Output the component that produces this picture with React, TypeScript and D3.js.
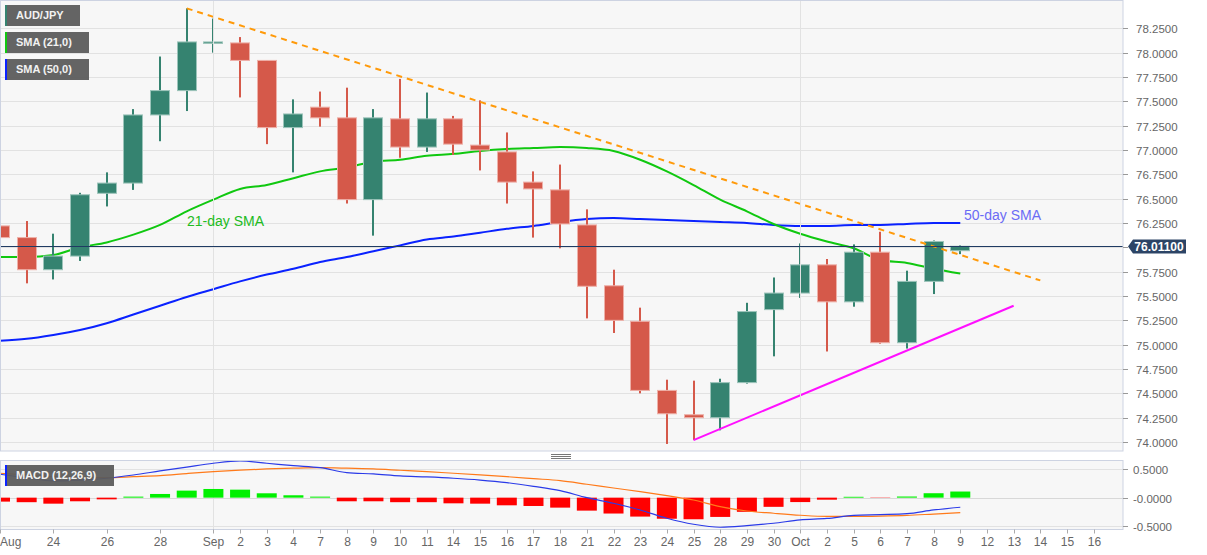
import React, { useEffect, useRef } from 'react';
import * as d3 from 'd3';

// trading days shown on the chart
const dates = [
  'Aug 20', 'Aug 21', 'Aug 24', 'Aug 25', 'Aug 26', 'Aug 27', 'Aug 28', 'Aug 31',
  'Sep 1', 'Sep 2', 'Sep 3', 'Sep 4', 'Sep 7', 'Sep 8', 'Sep 9', 'Sep 10', 'Sep 11',
  'Sep 14', 'Sep 15', 'Sep 16', 'Sep 17', 'Sep 18', 'Sep 21', 'Sep 22', 'Sep 23',
  'Sep 24', 'Sep 25', 'Sep 28', 'Sep 29', 'Sep 30', 'Oct 1', 'Oct 2', 'Oct 5',
  'Oct 6', 'Oct 7', 'Oct 8', 'Oct 9',
];
// x axis labels, including empty future days
const tickLabels = [
  'Aug', '', '24', '', '26', '', '28', '', 'Sep', '2', '3', '4', '7', '8', '9', '10', '11',
  '14', '15', '16', '17', '18', '21', '22', '23', '24', '25', '28', '29', '30', 'Oct', '2',
  '5', '6', '7', '8', '9', '12', '13', '14', '15', '16',
];

const open = [
  76.22, 76.1, 75.77, 75.91, 76.555, 76.66, 77.36, 77.61, 78.105, 78.1, 77.92, 77.23,
  77.44, 77.33, 76.49, 77.32, 77.03, 77.32, 77.05, 76.98, 76.67, 76.59, 76.23, 75.605,
  75.24, 74.53, 74.28, 74.25, 74.61, 75.36, 75.53, 75.82, 75.44, 75.95, 75.02, 75.65, 75.965,
];
const high = [
  76.31, 76.27, 76.14, 76.56, 76.77, 77.42, 77.96, 78.455, 78.35, 78.16, 77.92, 77.52,
  77.6, 77.64, 77.42, 77.73, 77.59, 77.35, 77.51, 77.18, 76.78, 76.85, 76.39, 75.77,
  75.38, 74.64, 74.63, 74.65, 75.43, 75.69, 76.04, 75.88, 76.03, 76.16, 75.76, 76.07, 76.02,
];
const low = [
  75.61, 75.63, 75.67, 75.86, 76.42, 76.59, 77.09, 77.4, 78.0, 77.54, 77.06, 76.77,
  77.24, 76.45, 76.12, 76.92, 76.98, 76.95, 76.79, 76.45, 76.1, 75.99, 75.27, 75.12,
  74.5, 73.98, 74.02, 74.12, 74.6, 74.88, 75.48, 74.93, 75.39, 75.01, 74.96, 75.52, 75.93,
];
const close = [
  76.1, 75.77, 75.91, 76.54, 76.66, 77.36, 77.61, 78.11, 78.11, 77.92, 77.23, 77.37,
  77.33, 76.49, 77.33, 77.03, 77.32, 77.06, 77.0, 76.67, 76.6, 76.24, 75.6, 75.25,
  74.53, 74.29, 74.25, 74.61, 75.34, 75.53, 75.82, 75.44, 75.95, 75.02, 75.65, 76.06, 76.011,
];

const sma21 = [
  75.9, 75.9, 75.92, 76.0, 76.05, 76.13, 76.23, 76.37, 76.49, 76.6, 76.64, 76.71,
  76.78, 76.82, 76.88, 76.9, 76.94, 76.96, 76.99, 77.01, 77.02, 77.03, 77.02, 76.99,
  76.9, 76.78, 76.64, 76.49, 76.37, 76.24, 76.14, 76.06, 75.99, 75.87, 75.84, 75.78, 75.73,
];
const sma50 = [
  75.04, 75.06, 75.1, 75.15, 75.22, 75.31, 75.4, 75.49, 75.57, 75.65, 75.72, 75.78,
  75.85, 75.9, 75.96, 76.02, 76.08, 76.11, 76.15, 76.19, 76.22, 76.26, 76.29, 76.3,
  76.29, 76.28, 76.27, 76.26, 76.25, 76.23, 76.22, 76.22, 76.23, 76.23, 76.24, 76.25, 76.25,
];

// hand drawn trend lines: [day index, price]
const resistance: [number, number][] = [[7, 78.455], [39, 75.66]];
const support: [number, number][] = [[26, 74.02], [38, 75.4]];

const macdLine = [
  0.413, 0.35, 0.295, 0.31, 0.342, 0.4, 0.471, 0.54, 0.607, 0.647, 0.607, 0.564,
  0.529, 0.441, 0.418, 0.383, 0.365, 0.342, 0.31, 0.265, 0.2, 0.123, 0.0, -0.099,
  -0.217, -0.363, -0.469, -0.522, -0.494, -0.451, -0.393, -0.367, -0.313, -0.3, -0.283, -0.217, -0.169,
];
const signalLine = [
  0.43, 0.4, 0.37, 0.36, 0.353, 0.37, 0.388, 0.425, 0.459, 0.485, 0.506, 0.52,
  0.529, 0.52, 0.506, 0.483, 0.46, 0.43, 0.4, 0.37, 0.335, 0.3, 0.236, 0.17,
  0.106, 0.035, -0.041, -0.159, -0.235, -0.275, -0.31, -0.331, -0.331, -0.325, -0.313, -0.289, -0.265,
];
const histogram = [
  -0.07, -0.08, -0.106, -0.064, -0.03, 0.018, 0.065, 0.124, 0.153, 0.141, 0.077, 0.042,
  0.018, -0.064, -0.064, -0.08, -0.08, -0.1, -0.106, -0.135, -0.147, -0.176, -0.229, -0.28,
  -0.334, -0.372, -0.381, -0.34, -0.25, -0.162, -0.078, -0.036, 0.015, -0.005, 0.02, 0.078, 0.108,
];

const priceTicks = d3.range(74, 78.26, 0.25);
const macdTicks = [0.5, 0, -0.5];
const lastPrice = 76.011;

const FONT = '"Liberation Sans", Arial, sans-serif';

const App: React.FC = () => {
  const ref = useRef<SVGSVGElement>(null);

  useEffect(() => {
    if (!ref.current) return;
    const svg = d3.select(ref.current);
    svg.selectAll('*').remove();

    const plotR = 1123;
    const mainTop = 0.5;
    const mainBot = 451;
    const macdTop = 460.5;
    const macdBot = 529.5;

    const x = d3.scaleLinear().domain([0, 42.1]).range([0, plotR]);
    const y = d3.scaleLinear().domain([74, 78.25]).range([442, 28.3]);
    const ym = d3.scaleLinear().domain([-0.5, 0.5]).range([526, 469.3]);

    svg.append('rect').attr('width', 1207).attr('height', 555).attr('fill', '#fff');

    const defs = svg.append('defs');
    defs.append('clipPath').attr('id', 'clipMain')
      .append('rect').attr('x', 0).attr('y', mainTop).attr('width', plotR).attr('height', mainBot - mainTop);
    defs.append('clipPath').attr('id', 'clipMacd')
      .append('rect').attr('x', 0).attr('y', macdTop).attr('width', plotR).attr('height', macdBot - macdTop);

    // panel backgrounds
    [[mainTop, mainBot], [macdTop, macdBot]].forEach(([t, b]) => {
      svg.append('rect')
        .attr('x', 0.5).attr('y', t).attr('width', plotR - 0.5).attr('height', b - t)
        .attr('fill', '#f7f7f7');
    });

    // main grid
    const main = svg.append('g').attr('clip-path', 'url(#clipMain)');
    main.selectAll('line.h').data(priceTicks).enter().append('line')
      .attr('x1', 0).attr('x2', plotR)
      .attr('y1', (d) => Math.round(y(d)) + 0.5).attr('y2', (d) => Math.round(y(d)) + 0.5)
      .attr('stroke', '#e2e2e2').attr('stroke-width', 1);
    [8, 30].forEach((i) => {
      [[mainTop, mainBot], [macdTop, macdBot]].forEach(([t, b]) => {
        svg.append('line')
          .attr('x1', Math.round(x(i)) + 0.5).attr('x2', Math.round(x(i)) + 0.5)
          .attr('y1', t).attr('y2', b).attr('stroke', '#e2e2e2');
      });
    });

    // SMA lines
    const line = d3.line<number>().x((_, i) => x(i)).y((d) => y(d)).curve(d3.curveMonotoneX);
    main.append('path').attr('d', line(sma50) as string)
      .attr('fill', 'none').attr('stroke', '#0a22ff').attr('stroke-width', 2);
    main.append('path').attr('d', line(sma21) as string)
      .attr('fill', 'none').attr('stroke', '#10c810').attr('stroke-width', 2);

    // candles
    const bw = 20;
    const candles = main.selectAll('g.c').data(dates).enter().append('g');
    candles.each(function (_, i) {
      const g = d3.select(this);
      const up = close[i] >= open[i];
      const col = up ? '#358370' : '#d5594a';
      const cx = Math.round(x(i));
      g.append('rect')
        .attr('x', cx - 1).attr('width', 2)
        .attr('y', y(high[i])).attr('height', y(low[i]) - y(high[i]))
        .attr('fill', col);
      const top = y(Math.max(open[i], close[i]));
      const bot = y(Math.min(open[i], close[i]));
      g.append('rect')
        .attr('x', cx - bw / 2 + 0.5).attr('width', bw - 1)
        .attr('y', top).attr('height', Math.max(bot - top, 1.5))
        .attr('fill', col)
        .attr('stroke', up ? '#9cc4ba' : '#eeb0a8').attr('stroke-width', 1);
    });

    // trend lines
    const tl = d3.line<[number, number]>().x((d) => x(d[0])).y((d) => y(d[1]));
    main.append('path').attr('d', tl(resistance) as string)
      .attr('fill', 'none').attr('stroke', '#ff9a0a').attr('stroke-width', 2)
      .attr('stroke-dasharray', '6,5');
    main.append('path').attr('d', tl(support) as string)
      .attr('fill', 'none').attr('stroke', '#ff10ff').attr('stroke-width', 2);

    // current price line
    const yl = Math.round(y(lastPrice)) + 0.5;
    svg.append('line').attr('x1', 0).attr('x2', plotR).attr('y1', yl).attr('y2', yl)
      .attr('stroke', '#1f3b63').attr('stroke-width', 1);

    // annotation text
    svg.append('text').attr('x', 187).attr('y', 226).text('21-day SMA')
      .attr('font-family', FONT).attr('font-size', 14).attr('fill', '#22bb22');
    svg.append('text').attr('x', 964).attr('y', 220).text('50-day SMA')
      .attr('font-family', FONT).attr('font-size', 14).attr('fill', '#6b6bf5');

    // MACD panel
    const macd = svg.append('g').attr('clip-path', 'url(#clipMacd)');
    macd.selectAll('line.g').data(macdTicks).enter().append('line')
      .attr('x1', 0).attr('x2', plotR)
      .attr('y1', (d) => Math.round(ym(d)) + 0.5).attr('y2', (d) => Math.round(ym(d)) + 0.5)
      .attr('stroke', (d) => (d === 0 ? '#d8d8d8' : '#e2e2e2'));
    macd.selectAll('rect.h').data(histogram).enter().append('rect')
      .attr('x', (_, i) => x(i) - bw / 2)
      .attr('width', bw)
      .attr('y', (d) => Math.min(ym(d), ym(0)))
      .attr('height', (d) => Math.abs(ym(d) - ym(0)))
      .attr('fill', (d) => (d >= 0 ? '#00f000' : '#ff0000'));
    const ml = d3.line<number>().x((_, i) => x(i)).y((d) => ym(d)).curve(d3.curveMonotoneX);
    macd.append('path').attr('d', ml(signalLine) as string)
      .attr('fill', 'none').attr('stroke', '#ff7a1a').attr('stroke-width', 1.2);
    macd.append('path').attr('d', ml(macdLine) as string)
      .attr('fill', 'none').attr('stroke', '#2a3ae8').attr('stroke-width', 1.2);

    // panel borders
    [[mainTop, mainBot], [macdTop, macdBot]].forEach(([t, b]) => {
      svg.append('rect')
        .attr('x', 0.5).attr('y', t).attr('width', plotR - 0.5).attr('height', b - t)
        .attr('fill', 'none').attr('stroke', '#cdd3e2');
    });

    // right axes (the label under the price tag is hidden, as in the source)
    const axisText = (g: d3.Selection<SVGTextElement, any, any, any>) =>
      g.attr('font-family', FONT).attr('font-size', 11.5).attr('fill', '#666');
    priceTicks.forEach((v) => {
      const yy = Math.round(y(v)) + 0.5;
      svg.append('line').attr('x1', plotR).attr('x2', plotR + 5).attr('y1', yy).attr('y2', yy).attr('stroke', '#999');
      if (Math.abs(yy - yl) < 12) return;
      axisText(svg.append('text').attr('x', plotR + 13).attr('y', yy).attr('dy', '0.35em').text(v.toFixed(4)));
    });
    macdTicks.forEach((v) => {
      const yy = Math.round(ym(v)) + 0.5;
      svg.append('line').attr('x1', plotR).attr('x2', plotR + 5).attr('y1', yy).attr('y2', yy).attr('stroke', '#999');
      axisText(svg.append('text').attr('x', plotR + 10).attr('y', yy).attr('dy', '0.35em')
        .text(v === 0 ? '-0.0000' : v.toFixed(4)));
    });

    // last price tag
    svg.append('path')
      .attr('d', `M${plotR + 5},${yl} L${plotR + 10},${yl - 7} H${plotR + 63} V${yl + 7} H${plotR + 10} Z`)
      .attr('fill', '#2c4466');
    svg.append('text').attr('x', plotR + 36).attr('y', yl).attr('dy', '0.36em')
      .attr('text-anchor', 'middle').attr('font-family', FONT).attr('font-size', 12)
      .attr('font-weight', 'bold').attr('fill', '#fff').text(lastPrice.toFixed(5));

    // date axis
    tickLabels.forEach((lab, i) => {
      if (!lab) return;
      const xx = Math.round(x(i)) + 0.5;
      svg.append('line').attr('x1', xx).attr('x2', xx).attr('y1', macdBot).attr('y2', macdBot + 4).attr('stroke', '#aaa');
      svg.append('text').attr('x', i === 0 ? 0 : xx).attr('y', 546)
        .attr('text-anchor', i === 0 ? 'start' : 'middle')
        .attr('font-family', FONT).attr('font-size', 12).attr('fill', '#666').text(lab);
    });

    // splitter handle
    [455, 457, 459].forEach((yy) => {
      svg.append('line').attr('x1', 551).attr('x2', 571).attr('y1', yy - 0.5).attr('y2', yy - 0.5)
        .attr('stroke', '#777');
    });

    // legends
    const legend = (label: string, yTop: number, w: number, col: string) => {
      svg.append('rect').attr('x', 5).attr('y', yTop).attr('width', w).attr('height', 21)
        .attr('fill', '#5c5c5c').attr('fill-opacity', 0.95);
      svg.append('rect').attr('x', 5).attr('y', yTop).attr('width', 2).attr('height', 21).attr('fill', col);
      svg.append('text').attr('x', 16).attr('y', yTop + 10.5).attr('dy', '0.36em')
        .attr('font-family', FONT).attr('font-size', 11).attr('font-weight', 'bold')
        .attr('fill', '#f2f2f2').text(label);
    };
    legend('AUD/JPY', 5, 75, '#358370');
    legend('SMA (21,0)', 32, 84, '#10c810');
    legend('SMA (50,0)', 59, 84, '#0a22ff');
    legend('MACD (12,26,9)', 465, 109, '#0a22ff');
  }, []);

  return (
    <svg
      ref={ref}
      width={1207}
      height={555}
      style={{ position: 'absolute', left: 0, top: 0, display: 'block' }}
    />
  );
};

export default App;
